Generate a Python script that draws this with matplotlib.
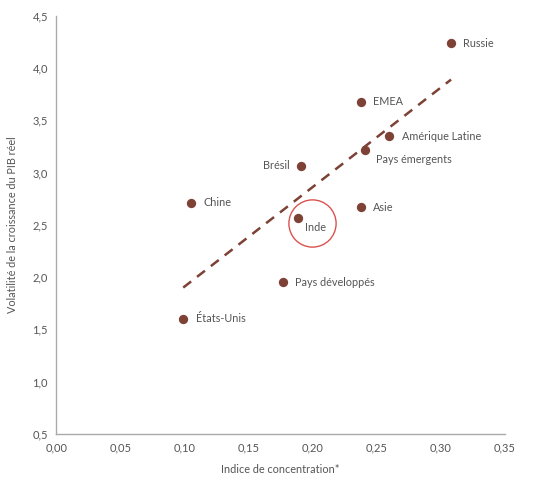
import matplotlib.pyplot as plt
import matplotlib.ticker as ticker

plt.rcParams['font.family'] = ['Lato', 'DejaVu Sans']

# données
pays = ['Russie', 'EMEA', 'Amérique Latine', 'Pays émergents', 'Asie',
        'Brésil', 'Chine', 'Inde', 'Pays développés', 'États-Unis']
indice = [0.3077, 0.2375, 0.2598, 0.2411, 0.2375, 0.1907, 0.1049, 0.1888, 0.1769, 0.0991]
volatilite = [4.24, 3.68, 3.35, 3.22, 2.67, 3.065, 2.71, 2.57, 1.95, 1.60]

tendance_x = [0.0991, 0.3080]
tendance_y = [1.90, 3.89]

# position des étiquettes (décalage en points)
decalages = {
    'Russie': (9, 0, 'left', 'center'),
    'EMEA': (9, 0, 'left', 'center'),
    'Amérique Latine': (9, 0, 'left', 'center'),
    'Pays émergents': (8, -7, 'left', 'center'),
    'Asie': (9, 0, 'left', 'center'),
    'Brésil': (-8, 0, 'right', 'center'),
    'Chine': (9, 0, 'left', 'center'),
    'Inde': (5, -7, 'left', 'center'),
    'Pays développés': (9, 0, 'left', 'center'),
    'États-Unis': (9, 0, 'left', 'center'),
}

brun = '#7d4136'
gris = '#555555'

fig = plt.figure(figsize=(5.4, 4.8), dpi=100)
ax = fig.add_axes([0.104, 0.096, 0.831, 0.871])

ax.plot(tendance_x, tendance_y, color=brun, lw=1.8, dashes=(4, 3), zorder=2)
ax.scatter(indice, volatilite, s=45, color=brun, zorder=3, linewidths=0)

for nom, x, y in zip(pays, indice, volatilite):
    dx, dy, ha, va = decalages[nom]
    ax.annotate(nom, (x, y), xytext=(dx, dy), textcoords='offset points',
                ha=ha, va=va, fontsize=7.8, color=gris)

# cercle autour de l'Inde
ax.plot([0.1993], [2.514], marker='o', markersize=34, markerfacecolor='none',
        markeredgecolor='#d9534f', markeredgewidth=1.0, zorder=4)

ax.set_xlim(0, 0.35)
ax.set_ylim(0.5, 4.5)
ax.xaxis.set_major_locator(ticker.MultipleLocator(0.05))
ax.yaxis.set_major_locator(ticker.MultipleLocator(0.5))
ax.xaxis.set_major_formatter(ticker.FuncFormatter(lambda v, p: f'{v:.2f}'.replace('.', ',')))
ax.yaxis.set_major_formatter(ticker.FuncFormatter(lambda v, p: f'{v:.1f}'.replace('.', ',')))

for s in ['top', 'right']:
    ax.spines[s].set_visible(False)
for s in ['left', 'bottom']:
    ax.spines[s].set_color('#aaaaaa')
    ax.spines[s].set_linewidth(1)
ax.tick_params(length=0, labelsize=8, labelcolor=gris, pad=6)

ax.set_xlabel('Indice de concentration*', fontsize=7.8, color=gris, labelpad=8)
ax.set_ylabel('Volatilité de la croissance du PIB réel', fontsize=7.8, color=gris, labelpad=10)

fig.savefig('out.png', dpi=100)
